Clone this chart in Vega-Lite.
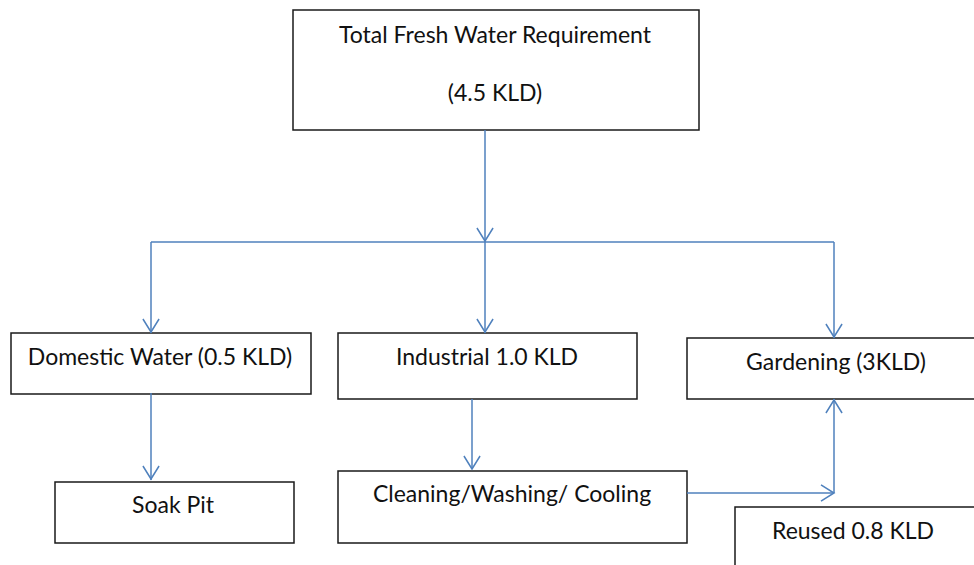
{
  "$schema": "https://vega.github.io/schema/vega-lite/v6.json",
  "width": 974,
  "height": 565,
  "autosize": {"type": "none"},
  "padding": 0,
  "background": "white",
  "config": {"view": {"stroke": null}},
  "datasets": {
    "boxes": [
      {"id": "total", "x0": 293, "y0": 10, "x1": 699, "y1": 130},
      {"id": "domestic", "x0": 11, "y0": 333, "x1": 311, "y1": 394},
      {"id": "industrial", "x0": 338, "y0": 333, "x1": 637, "y1": 399},
      {"id": "gardening", "x0": 687, "y0": 338, "x1": 976, "y1": 399},
      {"id": "soak", "x0": 55, "y0": 482, "x1": 294, "y1": 543},
      {"id": "cleaning", "x0": 338, "y0": 471, "x1": 687, "y1": 543},
      {"id": "reused", "x0": 735, "y0": 507, "x1": 976, "y1": 575}
    ],
    "links": [
      {"x0": 485, "y0": 130, "x1": 485, "y1": 242},
      {"x0": 151, "y0": 242, "x1": 834, "y1": 242},
      {"x0": 151, "y0": 242, "x1": 151, "y1": 333},
      {"x0": 485, "y0": 242, "x1": 485, "y1": 333},
      {"x0": 834, "y0": 242, "x1": 834, "y1": 338},
      {"x0": 151, "y0": 393, "x1": 151, "y1": 480},
      {"x0": 472, "y0": 399, "x1": 472, "y1": 469},
      {"x0": 687, "y0": 493, "x1": 834, "y1": 493},
      {"x0": 834, "y0": 493, "x1": 834, "y1": 399}
    ],
    "arrows": [
      {"x": 485, "y": 241, "dir": "down"},
      {"x": 151, "y": 332, "dir": "down"},
      {"x": 485, "y": 332, "dir": "down"},
      {"x": 834, "y": 337, "dir": "down"},
      {"x": 151, "y": 479, "dir": "down"},
      {"x": 472, "y": 469, "dir": "down"},
      {"x": 834, "y": 493, "dir": "right"},
      {"x": 834, "y": 400, "dir": "up"}
    ],
    "labels": [
      {"x": 495, "y": 36, "text": "Total Fresh Water Requirement"},
      {"x": 495, "y": 94, "text": "(4.5 KLD)"},
      {"x": 160, "y": 358, "text": "Domestic Water (0.5 KLD)"},
      {"x": 487, "y": 358, "text": "Industrial 1.0 KLD"},
      {"x": 836, "y": 363, "text": "Gardening (3KLD)"},
      {"x": 173, "y": 506, "text": "Soak Pit"},
      {"x": 512, "y": 495, "text": "Cleaning/Washing/ Cooling"},
      {"x": 853, "y": 532, "text": "Reused 0.8 KLD"}
    ]
  },
  "layer": [
    {
      "data": {"name": "boxes"},
      "mark": {"type": "rect", "fill": "white", "stroke": "#1a1a1a", "strokeWidth": 1.5, "clip": true},
      "encoding": {
        "x": {"field": "x0", "type": "quantitative", "scale": {"domain": [0, 974], "nice": false, "zero": false}, "axis": null},
        "x2": {"field": "x1"},
        "y": {"field": "y0", "type": "quantitative", "scale": {"domain": [0, 565], "nice": false, "zero": false, "reverse": true}, "axis": null},
        "y2": {"field": "y1"}
      }
    },
    {
      "data": {"name": "links"},
      "mark": {"type": "rule", "stroke": "#4f81bd", "strokeWidth": 1.5},
      "encoding": {
        "x": {"field": "x0", "type": "quantitative"},
        "x2": {"field": "x1"},
        "y": {"field": "y0", "type": "quantitative"},
        "y2": {"field": "y1"}
      }
    },
    {
      "data": {"name": "arrows"},
      "mark": {"type": "point", "filled": false, "stroke": "#4f81bd", "strokeWidth": 1.5, "size": 676, "opacity": 1},
      "encoding": {
        "x": {"field": "x", "type": "quantitative"},
        "y": {"field": "y", "type": "quantitative"},
        "shape": {
          "field": "dir",
          "type": "nominal",
          "legend": null,
          "scale": {
            "domain": ["down", "up", "right"],
            "range": ["M-0.62,-1L0,0L0.62,-1", "M-0.62,1L0,0L0.62,1", "M-1,-0.62L0,0L-1,0.62"]
          }
        }
      }
    },
    {
      "data": {"name": "labels"},
      "mark": {"type": "text", "font": "Lato", "fontSize": 23, "color": "#111111", "align": "center", "baseline": "middle"},
      "encoding": {
        "x": {"field": "x", "type": "quantitative"},
        "y": {"field": "y", "type": "quantitative"},
        "text": {"field": "text"}
      }
    }
  ]
}
